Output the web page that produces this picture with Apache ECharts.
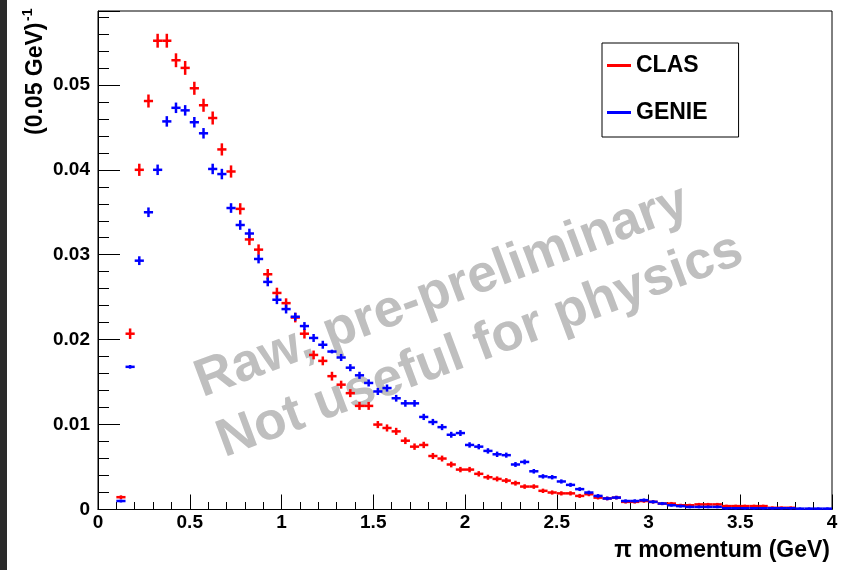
<!DOCTYPE html>
<html><head><meta charset="utf-8">
<script src="https://cdn.jsdelivr.net/npm/echarts@6/dist/echarts.min.js"></script>
<style>html,body{margin:0;padding:0;background:#fff}#c{width:846px;height:570px}</style>
</head><body><div id="c"></div>
<script>
var binWidth = 0.05;
var binCenters = [];
for (var k = 0; k < 80; k++) binCenters.push(+(0.025 + 0.05 * k).toFixed(3));

var clasValues = [
  null, null, 0.00145, 0.0207, 0.0400, 0.0481, 0.0552, 0.0552, 0.0529, 0.0520,
  0.0496, 0.0476, 0.0461, 0.0424, 0.0398, 0.0354, 0.0318, 0.0306, 0.0277, 0.0255,
  0.0243, 0.0226, 0.0207, 0.0182, 0.0175, 0.0157, 0.0147, 0.0137, 0.0122, 0.0122,
  0.0100, 0.0096, 0.0092, 0.0081, 0.0074, 0.0076, 0.0063, 0.0060, 0.0053, 0.0047,
  0.0047, 0.0042, 0.0038, 0.0036, 0.0034, 0.0031, 0.0027, 0.0027, 0.0022, 0.0020,
  0.0019, 0.0019, 0.0016, 0.0018, 0.0014, 0.0013, 0.0014, 0.0009, 0.0009, 0.0010,
  0.0009, 0.0007, 0.0007, 0.0005, 0.0005, 0.0006, 0.0006, 0.0006, 0.0004, 0.0004,
  0.0004, 0.0004, 0.0004, 0.0002, 0.0002, 0.0002, null, null, null, null
];
var clasErrors = [
  0, 0, 0.0001, 0.0005, 0.0006, 0.00065, 0.0007, 0.0007, 0.0007, 0.0007,
  0.00065, 0.00065, 0.00065, 0.0006, 0.0006, 0.00055, 0.00055, 0.0005, 0.0005, 0.0005,
  0.00045, 0.00045, 0.00045, 0.0004, 0.0004, 0.0004, 0.00035, 0.00035, 0.00035, 0.00035,
  0.0003, 0.0003, 0.0003, 0.00028, 0.00026, 0.00026, 0.00024, 0.00023, 0.00022, 0.0002,
  0.0002, 0.0002, 0.00018, 0.00018, 0.00018, 0.00017, 0.00015, 0.00015, 0.00014, 0.00013,
  0.00013, 0.00013, 0.00012, 0.00012, 0.0001, 0.0001, 0.0001, 0.00008, 0.00008, 0.00008,
  0.00008, 0.00007, 0.00007, 0.00006, 0.00006, 0.00006, 0.00006, 0.00006, 0.00005, 0.00005,
  0.00005, 0.00005, 0.00005, 0.00004, 0.00004, 0.00004, 0, 0, 0, 0
];
var genieValues = [
  null, null, 0.0010, 0.0168, 0.0293, 0.0350, 0.0400, 0.0457, 0.0473, 0.0470,
  0.0456, 0.0443, 0.0401, 0.0395, 0.0355, 0.0335, 0.0325, 0.0295, 0.0268, 0.0247,
  0.0236, 0.0227, 0.0216, 0.0202, 0.0194, 0.0186, 0.0179, 0.0167, 0.0158, 0.0149,
  0.0139, 0.0143, 0.0131, 0.0125, 0.0125, 0.0109, 0.0103, 0.0097, 0.0088, 0.0090,
  0.0076, 0.0074, 0.0069, 0.0065, 0.0064, 0.0053, 0.0056, 0.0045, 0.0039, 0.0038,
  0.0033, 0.0029, 0.0024, 0.0020, 0.0016, 0.0013, 0.0014, 0.0010, 0.0010, 0.0011,
  0.0009, 0.0007, 0.0005, 0.0004, 0.0003, 0.0003, 0.0003, 0.0003, 0.00015, 0.00015,
  0.00015, 0.00015, 0.00015, 0.00015, 0.00015, 0.00015, 0.0001, 0.0001, 0.0001, 0.0001
];
var genieErrors = [
  0, 0, 0.00005, 0.0001, 0.0004, 0.00045, 0.0005, 0.0005, 0.0005, 0.0005,
  0.0005, 0.0005, 0.0005, 0.0005, 0.00045, 0.00045, 0.00045, 0.0004, 0.0004, 0.0004,
  0.0004, 0.00035, 0.00035, 0.00035, 0.00035, 0.0001, 0.0003, 0.0003, 0.0003, 0.0003,
  0.0003, 0.0003, 0.00028, 0.00028, 0.00028, 0.00025, 0.00025, 0.00024, 0.00023, 0.00023,
  0.0002, 0.0002, 0.0002, 0.0002, 0.00018, 0.00017, 0.00017, 0.00015, 0.00014, 0.00014,
  0.00013, 0.00012, 0.00011, 0.0001, 0.0001, 0.00009, 0.00009, 0.00008, 0.00008, 0.00008,
  0.00007, 0.00006, 0.00005, 0.00005, 0.00004, 0.00004, 0.00004, 0.00004, 0.00003, 0.00003,
  0.00003, 0.00003, 0.00003, 0.00003, 0.00003, 0.00003, 0.00002, 0.00002, 0.00002, 0.00002
];
var xTickLabels = ['0', '0.5', '1', '1.5', '2', '2.5', '3', '3.5', '4'];
var yTickLabels = ['0', '0.01', '0.02', '0.03', '0.04', '0.05'];

function toData(vals, errs) {
  var out = [];
  for (var i = 0; i < binCenters.length; i++) {
    if (vals[i] !== null) out.push([binCenters[i], vals[i], errs[i]]);
  }
  return out;
}
function makeRenderer(color) {
  return function (params, api) {
    var c = api.value(0), v = api.value(1), e = api.value(2);
    var pL = api.coord([c - binWidth / 2, v]);
    var pR = api.coord([c + binWidth / 2, v]);
    var pT = api.coord([c, v + e]);
    var pB = api.coord([c, v - e]);
    var st = { stroke: color, lineWidth: 2.5, fill: null };
    return { type: 'group', children: [
      { type: 'line', shape: { x1: pL[0], y1: pL[1], x2: pR[0], y2: pR[1] }, style: st },
      { type: 'line', shape: { x1: pT[0], y1: pT[1] - 1, x2: pB[0], y2: pB[1] + 1 }, style: st }
    ]};
  };
}
var FONT = '"Liberation Sans", Arial, Helvetica, sans-serif';
var chart = echarts.init(document.getElementById('c'), null, { renderer: 'canvas' });
chart.setOption({
  animation: false,
  backgroundColor: '#ffffff',
  grid: { left: 98, top: 11, right: 14, bottom: 60.5, show: true, borderColor: '#000', borderWidth: 1, backgroundColor: 'transparent' },
  xAxis: {
    type: 'value', min: 0, max: 4, interval: 0.5,
    axisLine: { show: true, lineStyle: { color: '#000', width: 1 } },
    axisTick: { show: true, inside: true, length: 15, lineStyle: { color: '#000', width: 1 } },
    minorTick: { show: true, splitNumber: 5, length: 7.5, lineStyle: { color: '#000', width: 1 } },
    splitLine: { show: false },
    axisLabel: { margin: 4, color: '#000', fontFamily: FONT, fontWeight: 'bold', fontSize: 19,
      formatter: function (v) { var i = Math.round(v / 0.5); return xTickLabels[i] !== undefined ? xTickLabels[i] : ''; } }
  },
  yAxis: {
    type: 'value', min: 0, max: 0.0587, interval: 0.01,
    axisLine: { show: true, lineStyle: { color: '#000', width: 1 } },
    axisTick: { show: true, inside: true, length: 22, lineStyle: { color: '#000', width: 1 } },
    minorTick: { show: true, splitNumber: 5, length: 11, lineStyle: { color: '#000', width: 1 } },
    splitLine: { show: false },
    axisLabel: { margin: 8, color: '#000', fontFamily: FONT, fontWeight: 'bold', fontSize: 19, showMaxLabel: false,
      formatter: function (v) { var i = Math.round(v / 0.01); if (Math.abs(v - i * 0.01) > 1e-6) return ''; return yTickLabels[i] !== undefined ? yTickLabels[i] : ''; } }
  },
  legend: {
    left: 602, top: 43, orient: 'vertical', selectedMode: false,
    data: [{ name: 'CLAS', icon: 'rect' }, { name: 'GENIE', icon: 'rect' }],
    itemWidth: 24, itemHeight: 3, itemGap: 24,
    padding: [11, 31, 13, 5],
    borderColor: '#000', borderWidth: 1, backgroundColor: '#fff',
    textStyle: { fontFamily: FONT, fontWeight: 'bold', fontSize: 23, color: '#000' }
  },
  graphic: [
    { type: 'rect', z: 0, shape: { x: 0, y: 0, width: 7, height: 570 }, style: { fill: '#2b2b2b' } },
    { type: 'text', z: 1, x: 442, y: 292, rotation: 20.5 * Math.PI / 180,
      style: { text: 'Raw, pre-preliminary', fill: '#bfbfbf', fontFamily: FONT, fontWeight: 'bold', fontSize: 53,
        align: 'center', textAlign: 'center', verticalAlign: 'middle', textVerticalAlign: 'middle' } },
    { type: 'text', z: 1, x: 480, y: 346, rotation: 20.5 * Math.PI / 180,
      style: { text: 'Not useful for physics', fill: '#bfbfbf', fontFamily: FONT, fontWeight: 'bold', fontSize: 53,
        align: 'center', textAlign: 'center', verticalAlign: 'middle', textVerticalAlign: 'middle' } },
    { type: 'text', z: 5, x: 830, y: 551,
      style: { text: 'π momentum (GeV)', fill: '#000', fontFamily: FONT, fontWeight: 'bold', fontSize: 23,
        align: 'right', textAlign: 'right', verticalAlign: 'middle', textVerticalAlign: 'middle' } },
    { type: 'group', x: 35.5, y: 135, rotation: Math.PI / 2, z: 5, children: [
      { type: 'text', x: 0, y: 0,
        style: { text: '(0.05 GeV)', fill: '#000', fontFamily: FONT, fontWeight: 'bold', fontSize: 23,
          align: 'left', textAlign: 'left', verticalAlign: 'middle', textVerticalAlign: 'middle' } },
      { type: 'text', x: 114, y: -7,
        style: { text: '-1', fill: '#000', fontFamily: FONT, fontWeight: 'bold', fontSize: 14,
          align: 'left', textAlign: 'left', verticalAlign: 'middle', textVerticalAlign: 'middle' } }
    ]}
  ],
  series: [
    { name: 'CLAS', type: 'custom', z: 3, itemStyle: { color: '#ff0000' }, encode: { x: 0, y: 1 },
      renderItem: makeRenderer('#ff0000'), data: toData(clasValues, clasErrors) },
    { name: 'GENIE', type: 'custom', z: 4, itemStyle: { color: '#0000ff' }, encode: { x: 0, y: 1 },
      renderItem: makeRenderer('#0000ff'), data: toData(genieValues, genieErrors) }
  ]
});
</script></body></html>
